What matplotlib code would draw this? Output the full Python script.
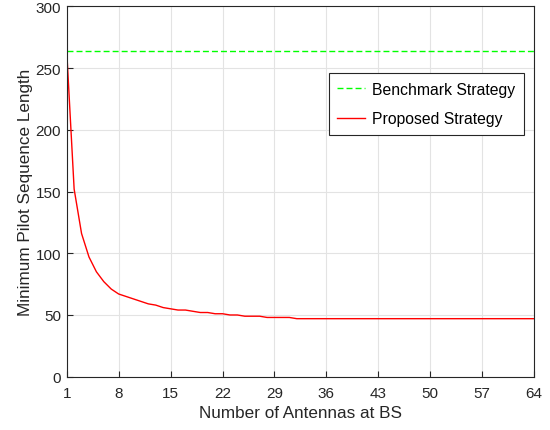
import matplotlib
matplotlib.use("Agg")
import matplotlib.pyplot as plt

# data
antennas = list(range(1, 65))
proposed = [264, 152, 116, 97, 85, 77, 71, 67, 65, 63, 61, 59, 58, 56, 55, 54,
            54, 53, 52, 52, 51, 51, 50, 50, 49, 49, 49, 48, 48, 48, 48] + [47] * 33
benchmark = [264] * 64
x_ticks = [1, 8, 15, 22, 29, 36, 43, 50, 57, 64]
y_ticks = [0, 50, 100, 150, 200, 250, 300]

plt.rcParams["font.family"] = ["Liberation Sans", "DejaVu Sans"]
AX_COLOR = "#262626"

fig = plt.figure(figsize=(5.5, 4.31), dpi=100)
ax = fig.add_axes([0.1213, 0.1237, 0.850, 0.859])

ax.plot(antennas, benchmark, "--", color="#00ff00", lw=1.0, dashes=(4.3, 2.2),
        label="Benchmark Strategy")
ax.plot(antennas, proposed, "-", color="#ff0000", lw=1.0, label="Proposed Strategy")

ax.set_xlim(1, 64)
ax.set_ylim(0, 300)
ax.set_xticks(x_ticks)
ax.set_yticks(y_ticks)
ax.grid(True, color="#e3e3e3", lw=0.8)
ax.set_axisbelow(True)
ax.tick_params(direction="in", length=4, width=0.8, colors=AX_COLOR,
               labelsize=11, top=False, right=False)
ax.tick_params(axis="x", pad=6.5)
ax.tick_params(axis="y", pad=4)
for s in ax.spines.values():
    s.set_color(AX_COLOR)
    s.set_linewidth(0.8)

ax.set_xlabel("Number of Antennas at BS", fontsize=12.3, color=AX_COLOR, labelpad=4)
ax.set_ylabel("Minimum Pilot Sequence Length", fontsize=12.3, color=AX_COLOR, labelpad=2)

leg = ax.legend(loc="upper right", bbox_to_anchor=(0.9786, 0.820), borderaxespad=0,
                fontsize=11.3, fancybox=False, framealpha=1, edgecolor=AX_COLOR,
                handlelength=1.8, handletextpad=0.45, borderpad=0.55,
                labelspacing=0.94)
leg.get_frame().set_linewidth(0.8)

fig.savefig("out.png", dpi=100)
